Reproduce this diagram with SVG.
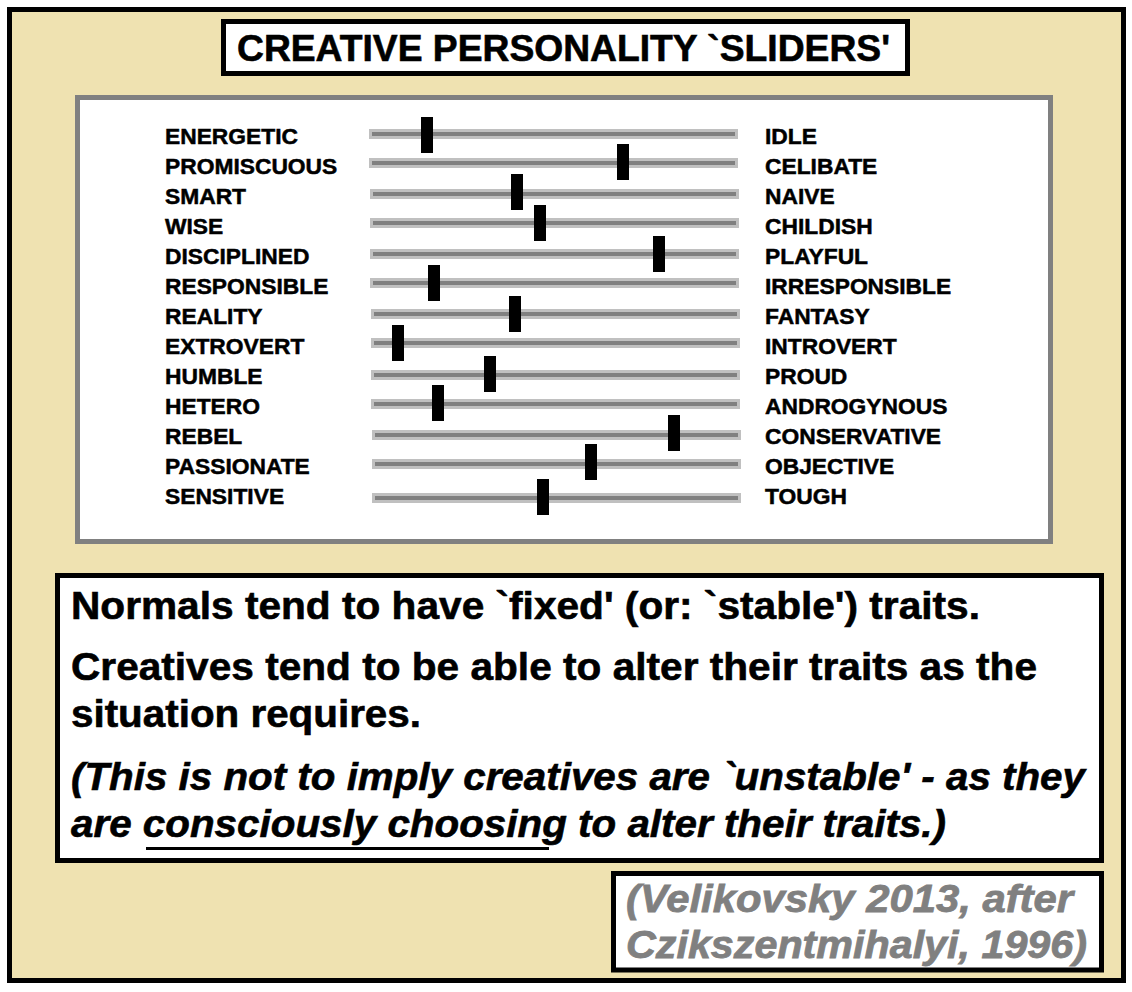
<svg xmlns="http://www.w3.org/2000/svg" width="1132" height="992" viewBox="0 0 1132 992">
  <style>
    .frame { fill: #EFE2B1; stroke: #000; stroke-width: 5; }
    .box { fill: #fff; stroke: #000; stroke-width: 5; }
    .panel { fill: #fff; stroke: #808080; stroke-width: 5; }
    .lbl { font-family: "Liberation Sans", Arial, sans-serif; font-weight: bold; font-size: 22.8px; fill: #000; stroke: #000; stroke-width: 0.5; }
    .title { font-family: "Liberation Sans", Arial, sans-serif; font-weight: bold; font-size: 37px; fill: #000; stroke: #000; stroke-width: 0.6; }
    .body { font-family: "Liberation Sans", Arial, sans-serif; font-weight: bold; font-size: 38px; fill: #000; stroke: #000; stroke-width: 0.6; }
    .ital { font-style: italic; }
    .cite { font-family: "Liberation Sans", Arial, sans-serif; font-weight: bold; font-style: italic; font-size: 39px; fill: #808080; stroke: #808080; stroke-width: 0.8; }
    .trk { fill: #C0C0C0; }
    .trkin { fill: #808080; }
    .knob { fill: #000; }
  </style>
  <defs>
    <g id="track">
      <rect class="trk" x="0" y="0" width="369" height="10"/>
      <rect class="trkin" x="3" y="3" width="363" height="4"/>
    </g>
  </defs>

  <rect id="background" class="frame" x="9.5" y="9.5" width="1114" height="971"/>

  <g id="title">
    <rect class="box" x="223.5" y="21.5" width="684" height="52"/>
    <text class="title" x="237" y="61" textLength="653" lengthAdjust="spacingAndGlyphs">CREATIVE PERSONALITY `SLIDERS'</text>
  </g>

  <g id="slider-panel">
    <rect class="panel" x="77.5" y="97.5" width="973" height="444"/>
  </g>

  <g id="left-labels">
    <text class="lbl" x="165" y="144">ENERGETIC</text>
    <text class="lbl" x="165" y="174">PROMISCUOUS</text>
    <text class="lbl" x="165" y="204">SMART</text>
    <text class="lbl" x="165" y="234">WISE</text>
    <text class="lbl" x="165" y="264">DISCIPLINED</text>
    <text class="lbl" x="165" y="294">RESPONSIBLE</text>
    <text class="lbl" x="165" y="324">REALITY</text>
    <text class="lbl" x="165" y="354">EXTROVERT</text>
    <text class="lbl" x="165" y="384">HUMBLE</text>
    <text class="lbl" x="165" y="414">HETERO</text>
    <text class="lbl" x="165" y="444">REBEL</text>
    <text class="lbl" x="165" y="474">PASSIONATE</text>
    <text class="lbl" x="165" y="504">SENSITIVE</text>
  </g>

  <g id="right-labels">
    <text class="lbl" x="765" y="144">IDLE</text>
    <text class="lbl" x="765" y="174">CELIBATE</text>
    <text class="lbl" x="765" y="204">NAIVE</text>
    <text class="lbl" x="765" y="234">CHILDISH</text>
    <text class="lbl" x="765" y="264">PLAYFUL</text>
    <text class="lbl" x="765" y="294">IRRESPONSIBLE</text>
    <text class="lbl" x="765" y="324">FANTASY</text>
    <text class="lbl" x="765" y="354">INTROVERT</text>
    <text class="lbl" x="765" y="384">PROUD</text>
    <text class="lbl" x="765" y="414">ANDROGYNOUS</text>
    <text class="lbl" x="765" y="444">CONSERVATIVE</text>
    <text class="lbl" x="765" y="474">OBJECTIVE</text>
    <text class="lbl" x="765" y="504">TOUGH</text>
  </g>

  <g id="tracks">
    <use href="#track" x="369" y="129"/>
    <use href="#track" x="369" y="158"/>
    <use href="#track" x="370" y="189"/>
    <use href="#track" x="370" y="218"/>
    <use href="#track" x="370" y="249"/>
    <use href="#track" x="370" y="278"/>
    <use href="#track" x="371" y="309"/>
    <use href="#track" x="371" y="338"/>
    <use href="#track" x="371" y="370"/>
    <use href="#track" x="371" y="399"/>
    <use href="#track" x="372" y="430"/>
    <use href="#track" x="372" y="459"/>
    <use href="#track" x="372" y="493"/>
  </g>

  <g id="knobs">
    <rect class="knob" x="421" y="117" width="12" height="36"/>
    <rect class="knob" x="617" y="144" width="12" height="36"/>
    <rect class="knob" x="511" y="174" width="12" height="36"/>
    <rect class="knob" x="534" y="205" width="12" height="36"/>
    <rect class="knob" x="653" y="236" width="12" height="36"/>
    <rect class="knob" x="428" y="265" width="12" height="36"/>
    <rect class="knob" x="509" y="296" width="12" height="36"/>
    <rect class="knob" x="392" y="325" width="12" height="36"/>
    <rect class="knob" x="484" y="356" width="12" height="36"/>
    <rect class="knob" x="432" y="385" width="12" height="36"/>
    <rect class="knob" x="668" y="415" width="12" height="36"/>
    <rect class="knob" x="585" y="444" width="12" height="36"/>
    <rect class="knob" x="537" y="479" width="12" height="36"/>
  </g>

  <g id="text-box">
    <rect class="box" x="57.5" y="575.5" width="1044" height="285"/>
    <text class="body" x="71" y="619" textLength="909" lengthAdjust="spacingAndGlyphs">Normals tend to have `fixed' (or: `stable') traits.</text>
    <text class="body" x="71" y="680" textLength="966" lengthAdjust="spacingAndGlyphs">Creatives tend to be able to alter their traits as the</text>
    <text class="body" x="71" y="727" textLength="350" lengthAdjust="spacingAndGlyphs">situation requires.</text>
    <text class="body ital" x="71" y="790" textLength="1014" lengthAdjust="spacingAndGlyphs">(This is not to imply creatives are `unstable' - as they</text>
    <text class="body ital" x="71" y="837" textLength="875" lengthAdjust="spacingAndGlyphs">are consciously choosing to alter their traits.)</text>
    <rect x="146" y="847" width="403" height="3" fill="#000"/>
  </g>

  <g id="citation">
    <rect class="box" x="613.5" y="873.5" width="488" height="96.5"/>
    <text class="cite" x="626" y="912" textLength="447" lengthAdjust="spacingAndGlyphs">(Velikovsky 2013, after</text>
    <text class="cite" x="626" y="958" textLength="461" lengthAdjust="spacingAndGlyphs">Czikszentmihalyi, 1996)</text>
  </g>
</svg>
